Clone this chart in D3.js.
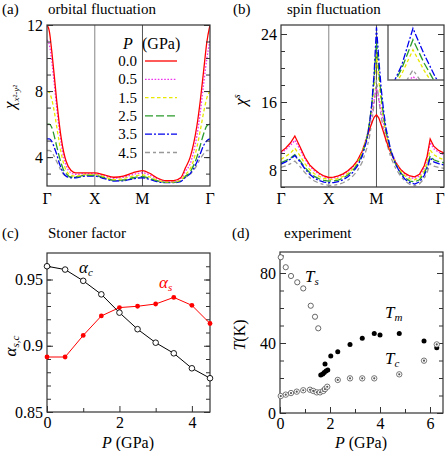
<!DOCTYPE html>
<html><head><meta charset="utf-8">
<script src="https://cdn.jsdelivr.net/npm/d3@7"></script>
<style>
body{margin:0;background:#fff}
</style>
</head><body><svg id="c" width="447" height="451" style="font-family:'Liberation Serif','DejaVu Serif',serif"></svg>
<script>
// ---------- DATA ----------
const pressures = ["0.0","0.5","1.5","2.5","3.5","4.5"];
const kLabels = ["Γ","X","M","Γ"];
const kPos = [0,1,2,2+Math.SQRT2];

// (a) orbital fluctuation chi_{x2-y2} along Γ-X-M-Γ
const kA = [0,0.05,0.1,0.15,0.2,0.25,0.3,0.35,0.4,0.5,0.6,0.8,1.0,1.2,1.4,1.6,1.8,2.0,2.15,2.3,2.5,2.65,2.8,2.9,3.0,3.07,3.14,3.21,3.28,3.35,3.414];
const orb00 = [12,11.6,10.4,9.0,7.5,6.2,5.1,4.3,3.75,3.2,3.05, 3.05,3.05,2.92,2.78,2.85,3.05,3.18,3.02,2.75,2.57,2.58,2.75, 3.35,4.0,4.8,5.9,7.4,9.2,11.0,12];
const orb05 = [11.1,10.8,9.8,8.5,7.1,5.8,4.8,4.0,3.5,3.05,2.95, 3.0,3.0,2.88,2.72,2.78,2.95,3.05,2.92,2.7,2.55,2.55,2.7, 3.15,3.6,4.3,5.3,6.7,8.4,10.0,11.1];
const orb15 = [8.0,7.9,7.5,6.8,5.9,5.0,4.2,3.6,3.2,2.9,2.85, 2.95,2.95,2.82,2.65,2.7,2.85,2.92,2.8,2.62,2.5,2.5,2.62, 2.95,3.3,3.8,4.6,5.6,6.7,7.6,8.0];
const orb25 = [6.0,6.0,5.8,5.3,4.7,4.1,3.6,3.2,3.0,2.8,2.8, 2.9,2.9,2.75,2.6,2.62,2.75,2.82,2.72,2.57,2.47,2.47,2.57, 2.85,3.1,3.5,4.0,4.7,5.4,5.9,6.0];
const orb35 = [5.1,5.1,4.95,4.6,4.2,3.7,3.3,3.0,2.85,2.75,2.75, 2.85,2.85,2.7,2.55,2.57,2.68,2.75,2.65,2.52,2.45,2.45,2.52, 2.78,3.0,3.3,3.7,4.2,4.7,5.0,5.1];
const orb45 = [4.4,4.4,4.3,4.05,3.75,3.45,3.15,2.95,2.85,2.78,2.78, 2.88,2.87,2.72,2.57,2.58,2.7,2.78,2.68,2.55,2.47,2.47,2.55, 2.78,2.95,3.2,3.5,3.9,4.2,4.4,4.4];

// (b) spin fluctuation chi^s
const kB = [0,0.1,0.2,0.29,0.4,0.5,0.6,0.7,0.8,0.9,1.0,1.1,1.2,1.3,1.4,1.5,1.6,1.7,1.8,1.85,1.9,1.95,2.0,2.05,2.1,2.15,2.2,2.3,2.4,2.5,2.6,2.7,2.8,2.9,3.0,3.06,3.125,3.2,3.3,3.414];
const spin00 = [10.15,10.6,11.2,12.0, 10.7,9.5,8.6,8.05,7.62,7.3,7.12,7.15,7.3,7.55,7.9,8.4,9.1,10.2,11.8, 12.7,13.5,14.2,14.5,14.1,13.3,12.4,11.5, 10.0,8.9,8.1,7.6,7.3,7.2,7.5,8.5, 9.6,11.65,10.8,10.3,10.0];
const spin05 = [10.0,10.4,10.9,11.5, 10.4,9.3,8.45,7.9,7.5,7.2,7.05,7.05,7.2,7.45,7.8,8.3,9.0,10.2,12.0, 13.2,14.6,16.2,17.6,16.3,14.8,13.4,12.1, 10.3,9.0,8.1,7.5,7.1,7.0,7.3,8.2, 9.3,11.25,10.5,10.1,9.8];
const spin15 = [9.25,9.6,10.0,10.55, 9.65,8.75,8.05,7.55,7.25,7.0,6.9,6.9,7.0,7.25,7.6,8.1,8.85,10.0,11.9, 13.4,15.3,18.0,21.6,18.5,15.9,13.9,12.3, 10.2,8.8,7.9,7.3,6.95,6.85,7.1,7.9, 8.8,10.35,9.8,9.45,9.2];
const spin25 = [8.85,9.1,9.4,9.8, 9.1,8.3,7.7,7.25,6.95,6.78,6.7,6.72,6.82,7.05,7.4,7.9,8.65,9.8,11.8, 13.4,15.6,18.8,23.1,19.6,16.6,14.3,12.5, 10.2,8.7,7.7,7.1,6.7,6.6,6.85,7.6, 8.4,9.65,9.2,9.0,8.85];
const spin35 = [8.7,8.95,9.3,9.7, 8.95,8.15,7.5,7.05,6.75,6.58,6.5,6.52,6.62,6.85,7.2,7.7,8.45,9.6,11.6, 13.3,15.7,19.3,24.8,20.9,17.5,14.9,12.9, 10.3,8.7,7.6,6.9,6.5,6.35,6.6,7.35, 8.2,9.45,8.95,8.75,8.6];
const spin45 = [8.3,8.5,8.75,9.05, 8.4,7.7,7.1,6.7,6.45,6.28,6.2,6.2,6.3,6.5,6.8,7.25,7.9,8.9,10.6, 11.8,13.5,15.8,18.6,16.2,14.2,12.7,11.4, 9.5,8.2,7.3,6.7,6.3,6.15,6.35,7.0, 7.7,8.75,8.45,8.3,8.2];

// (c) Stoner factor
const Pc = [0,0.5,1,1.5,2,2.5,3,3.5,4,4.5];
const alphaC = [0.960,0.9575,0.949,0.9388,0.925,0.9125,0.9023,0.8943,0.883,0.8755];
const alphaS = [0.8915,0.8915,0.9078,0.9225,0.9288,0.9298,0.9315,0.9365,0.9305,0.9168];

// (d) experiment
const TsP = [0.03,0.23,0.44,0.69,0.93,1.23,1.4,1.53];
const Ts  = [89,83.3,78.3,74.7,71.2,61.3,55,48.4];
const TmP = [1.63,1.71,1.77,1.84,1.91,1.80,2.03,2.31,2.8,3.29,3.77,4.0,4.77,5.76,6.27];
const Tm  = [21.7,22.3,23.2,24,24.6,28,32.6,35,39.2,42.7,45.5,44.6,45.5,41.1,37.3];
const TcP = [0.03,0.23,0.44,0.67,0.93,1.2,1.33,1.47,1.6,1.73,1.8,1.89,2.31,2.8,3.29,3.77,4.77,5.76,6.27];
const Tc  = [9.7,10.5,11.4,12.2,13,13.3,12.6,11.8,11.8,12.6,13.7,15,18.9,19.8,19.8,19.8,22.1,29.9,39.2];

// ---------- STYLE ----------
const FONT = "'Liberation Serif','DejaVu Serif',serif";
const colors = ["#ff0000","#ee33ee","#e8e800","#2a9a2a","#0000ee","#999999"];
const dashes = [null,"1.6,1.6","3.5,2.5","8,3","7,2,2,2","5,3,3,3"];
const FRAME = "#333";

const svg = d3.select("#c");

function label(x,y,s,size,extra){
  const t = svg.append("text").attr("x",x).attr("y",y).style("font-family",FONT).attr("font-size",size).text(s);
  if(extra) extra(t);
  return t;
}
function rich(x,y,parts,opts){
  const t = svg.append("text").style("font-family",FONT);
  if(opts && opts.rotate) t.attr("transform",`translate(${x},${y}) rotate(-90)`); else t.attr("x",x).attr("y",y);
  if(opts && opts.anchor) t.attr("text-anchor",opts.anchor);
  parts.forEach(p=>{
    const s = t.append("tspan").attr("font-size",p.size).text(p.text);
    if(p.italic) s.attr("font-style","italic");
    if(p.dy) s.attr("dy",p.dy);
    if(p.fill) s.attr("fill",p.fill);
  });
  return t;
}

function frameAxes(g, x, y, yMajor, yMinor, yFmt, xMajor, xMinor, xFmt){
  const [x0,x1] = x.range(), [y0,y1] = y.range();
  g.append("g").attr("transform",`translate(${x0},0)`).call(d3.axisLeft(y).tickValues(yMinor).tickSize(-4).tickFormat(""));
  g.append("g").attr("transform",`translate(${x1},0)`).call(d3.axisRight(y).tickValues(yMinor).tickSize(-4).tickFormat(""));
  g.append("g").attr("class","lab").attr("transform",`translate(${x0},0)`).call(d3.axisLeft(y).tickValues(yMajor).tickSize(-6).tickPadding(4).tickFormat(yFmt));
  g.append("g").attr("transform",`translate(${x1},0)`).call(d3.axisRight(y).tickValues(yMajor).tickSize(-6).tickFormat(""));
  if(xMajor){
    g.append("g").attr("transform",`translate(0,${y0})`).call(d3.axisBottom(x).tickValues(xMinor).tickSize(-4).tickFormat(""));
    g.append("g").attr("class","lab").attr("transform",`translate(0,${y0})`).call(d3.axisBottom(x).tickValues(xMajor).tickSize(-6).tickPadding(5).tickFormat(xFmt));
  }
  g.selectAll(".domain").remove();
  g.selectAll(".tick line").attr("stroke",FRAME).attr("stroke-width",1);
  g.selectAll(".lab text").attr("font-size",16).attr("fill","#000").style("font-family",FONT);
  g.append("rect").attr("x",x0).attr("y",y1).attr("width",x1-x0).attr("height",y0-y1)
    .attr("fill","none").attr("stroke",FRAME).attr("stroke-width",1.2);
}

function clip(id,x,y){
  const [x0,x1]=x.range(),[y0,y1]=y.range();
  svg.append("clipPath").attr("id",id).append("rect").attr("x",x0).attr("y",y1).attr("width",x1-x0).attr("height",y0-y1);
}

// ---------- PANEL (a) ----------
{
  const x = d3.scaleLinear().domain([0,2+Math.SQRT2]).range([47,210]);
  const y = d3.scaleLinear().domain([2.25,12]).range([186,25]);
  clip("ca",x,y);
  const g = svg.append("g");
  g.append("line").attr("x1",x(1)).attr("x2",x(1)).attr("y1",y.range()[0]).attr("y2",y.range()[1]).attr("stroke","#999").attr("stroke-width",1.2);
  g.append("line").attr("x1",x(2)).attr("x2",x(2)).attr("y1",y.range()[0]).attr("y2",y.range()[1]).attr("stroke","#555").attr("stroke-width",1);
  const series = [orb00,orb05,orb15,orb25,orb35,orb45];
  const line = d3.line().x((d,i)=>x(kA[i])).y(d=>y(d)).curve(d3.curveMonotoneX);
  const lg = g.append("g").attr("clip-path","url(#ca)");
  for(let s=series.length-1;s>=0;s--){
    lg.append("path").attr("d",line(series[s])).attr("fill","none").attr("stroke",colors[s]).attr("stroke-width",1.3)
      .attr("stroke-dasharray",dashes[s]);
  }
  frameAxes(g,x,y,[4,8,12],d3.range(3,12,1),d3.format("d"));
  kPos.forEach((k,i)=>label(x(k),204,kLabels[i],16,t=>t.attr("text-anchor","middle")));
  // legend
  label(123,49,"P",16,t=>t.attr("font-style","italic"));
  label(142,49,"(GPa)",16);
  pressures.forEach((p,i)=>{
    const yy = 61 + i*18.3;
    label(137,yy+5,p,15,t=>t.attr("text-anchor","end"));
    g.append("line").attr("x1",145).attr("x2",177).attr("y1",yy).attr("y2",yy)
      .attr("stroke",colors[i]).attr("stroke-width",1.3).attr("stroke-dasharray",dashes[i]);
  });
  label(2,14,"(a)",15);
  label(48,14,"orbital fluctuation",15);
  rich(15,97,[{text:"χ",size:17,italic:true},{text:"x²-y²",size:9,italic:true,dy:4}],{rotate:true,anchor:"middle"});
}

// ---------- PANEL (b) ----------
{
  const x = d3.scaleLinear().domain([0,2+Math.SQRT2]).range([281,444]);
  const y = d3.scaleLinear().domain([6,25.06]).range([187,25]);
  clip("cb",x,y);
  const g = svg.append("g");
  g.append("line").attr("x1",x(1)).attr("x2",x(1)).attr("y1",y.range()[0]).attr("y2",y.range()[1]).attr("stroke","#999").attr("stroke-width",1.2);
  g.append("line").attr("x1",x(2)).attr("x2",x(2)).attr("y1",y.range()[0]).attr("y2",y.range()[1]).attr("stroke","#555").attr("stroke-width",1);
  const series = [spin00,spin05,spin15,spin25,spin35,spin45];
  const line = d3.line().x((d,i)=>x(kB[i])).y(d=>y(d));
  const lg = g.append("g").attr("clip-path","url(#cb)");
  const order = [5,1,0,2,3,4];
  order.forEach(s=>{
    lg.append("path").attr("d",line(series[s])).attr("fill","none").attr("stroke",colors[s]).attr("stroke-width",1.3)
      .attr("stroke-dasharray",dashes[s]);
  });
  // inset
  const ix = d3.scaleLinear().domain([1.889,2.138]).range([388,444]);
  const iy = d3.scaleLinear().domain([17.1,25.3]).range([80,25]);
  svg.append("clipPath").attr("id","ci").append("rect").attr("x",388).attr("y",25).attr("width",56).attr("height",55);
  g.append("rect").attr("x",388).attr("y",25).attr("width",56).attr("height",55).attr("fill","#fff");
  const iline = d3.line().x((d,i)=>ix(kB[i])).y(d=>iy(d));
  const ig = g.append("g").attr("clip-path","url(#ci)");
  order.forEach(s=>{
    ig.append("path").attr("d",iline(series[s])).attr("fill","none").attr("stroke",colors[s]).attr("stroke-width",1.3)
      .attr("stroke-dasharray",dashes[s]);
  });
  g.append("path").attr("d","M388,25V80H444").attr("fill","none").attr("stroke","#666").attr("stroke-width",1.5);
  frameAxes(g,x,y,[8,16,24],d3.range(6,25,2),d3.format("d"));
  kPos.forEach((k,i)=>label(i===3 ? x(k)-4 : x(k),204,kLabels[i],16,t=>t.attr("text-anchor","middle")));
  label(233,14,"(b)",15);
  label(287,14,"spin fluctuation",15);
  rich(246,100,[{text:"χ",size:17,italic:true},{text:"s",size:10,italic:true,dy:-6}],{rotate:true,anchor:"middle"});
}

// ---------- PANEL (c) ----------
{
  const x = d3.scaleLinear().domain([0,4.5]).range([47,210]);
  const y = d3.scaleLinear().domain([0.85,0.97]).range([412,253]);
  const g = svg.append("g");
  frameAxes(g,x,y,[0.85,0.9,0.95],d3.range(0.86,0.965,0.01),d=>d3.format(".2~f")(d),[0,2,4],[1,3],d3.format("d"));
  const line = d3.line().x((d,i)=>x(Pc[i])).y(d=>y(d));
  g.append("path").attr("d",line(alphaS)).attr("fill","none").attr("stroke","#ff0000").attr("stroke-width",1);
  g.append("path").attr("d",line(alphaC)).attr("fill","none").attr("stroke","#000").attr("stroke-width",1);
  g.selectAll(".as").data(alphaS).join("circle").attr("cx",(d,i)=>x(Pc[i])).attr("cy",d=>y(d)).attr("r",2.4).attr("fill","#ff0000");
  g.selectAll(".ac").data(alphaC).join("circle").attr("cx",(d,i)=>x(Pc[i])).attr("cy",d=>y(d)).attr("r",2.8).attr("fill","#fff").attr("stroke","#000").attr("stroke-width",0.9);
  rich(79,273,[{text:"α",size:17,italic:true},{text:"c",size:11,italic:true,dy:3}]);
  rich(159,288,[{text:"α",size:17,italic:true,fill:"#ff0000"},{text:"s",size:11,italic:true,dy:3,fill:"#ff0000"}]);
  label(2,238,"(c)",15);
  label(48,238,"Stoner factor",15);
  rich(16,346,[{text:"α",size:17,italic:true},{text:"s,c",size:11,italic:true,dy:3}],{rotate:true,anchor:"middle"});
  rich(128,448,[{text:"P",size:16,italic:true},{text:" (GPa)",size:16}],{anchor:"middle"});
}

// ---------- PANEL (d) ----------
{
  const x = d3.scaleLinear().domain([0,6.52]).range([280,443]);
  const y = d3.scaleLinear().domain([0,92]).range([413,252]);
  const g = svg.append("g");
  frameAxes(g,x,y,[0,40,80],d3.range(10,91,10),d3.format("d"),[0,2,4,6],[1,3,5],d3.format("d"));
  g.selectAll(".ts").data(Ts).join("circle").attr("cx",(d,i)=>x(TsP[i])).attr("cy",d=>y(d)).attr("r",2.6).attr("fill","#fff").attr("stroke","#444").attr("stroke-width",0.8);
  g.selectAll(".tm").data(Tm).join("circle").attr("cx",(d,i)=>x(TmP[i])).attr("cy",d=>y(d)).attr("r",2.5).attr("fill","#000");
  const tc = g.selectAll(".tc").data(Tc).join("g").attr("transform",(d,i)=>`translate(${x(TcP[i])},${y(d)})`);
  tc.append("circle").attr("r",2.7).attr("fill","#fff").attr("stroke","#555").attr("stroke-width",0.8);
  tc.append("circle").attr("r",1.1).attr("fill","#555");
  rich(305,282,[{text:"T",size:17,italic:true},{text:"s",size:11,italic:true,dy:3}]);
  rich(385,318,[{text:"T",size:17,italic:true},{text:"m",size:11,italic:true,dy:3}]);
  rich(385,364,[{text:"T",size:17,italic:true},{text:"c",size:11,italic:true,dy:3}]);
  label(232,238,"(d)",15);
  label(284,238,"experiment",15);
  rich(245,335,[{text:"T",size:16,italic:true},{text:"(K)",size:16}],{rotate:true,anchor:"middle"});
  rich(361,448,[{text:"P",size:16,italic:true},{text:" (GPa)",size:16}],{anchor:"middle"});
}
</script>
</body></html>
